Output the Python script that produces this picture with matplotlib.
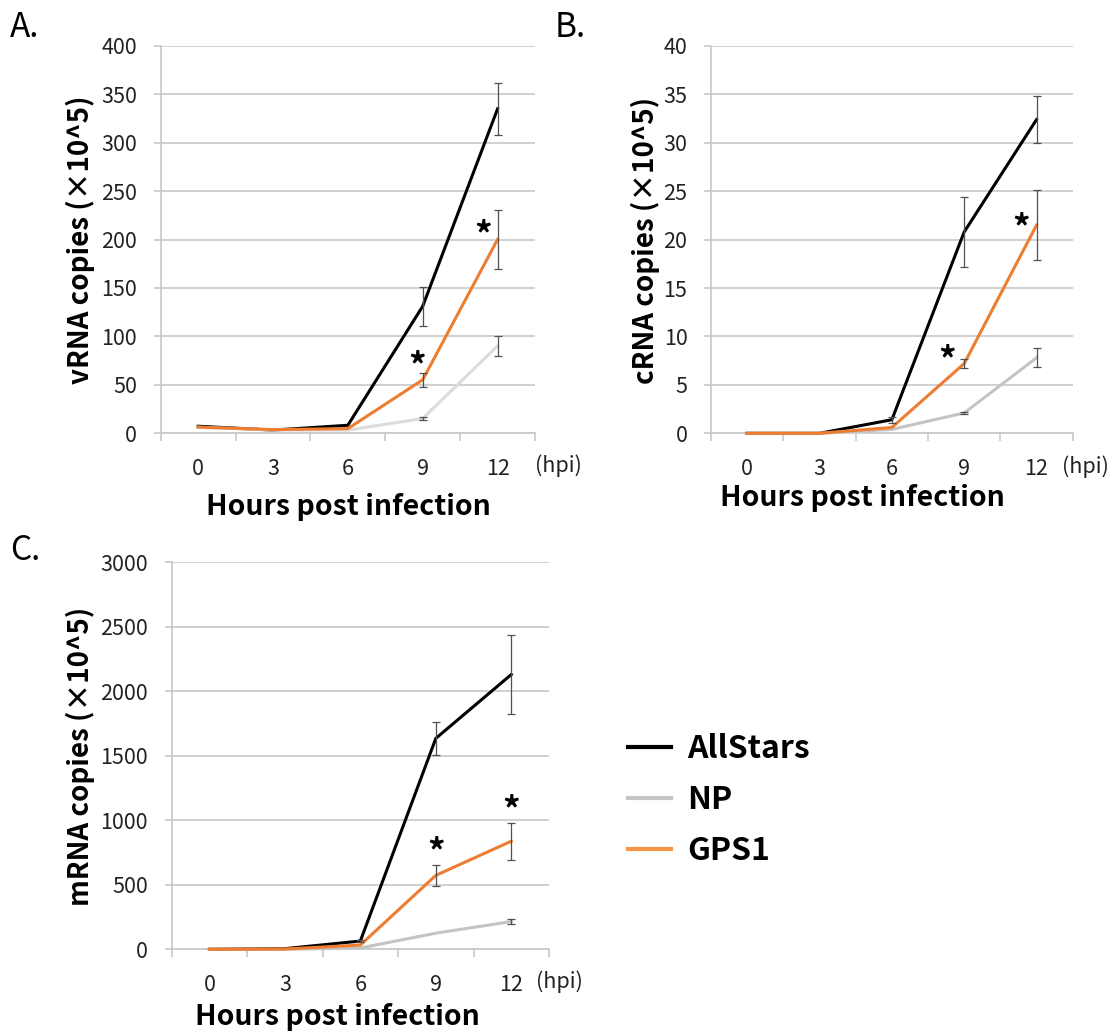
import numpy as np
import matplotlib
matplotlib.use('Agg')
import matplotlib.pyplot as plt
from matplotlib.lines import Line2D

plt.rcParams['font.family'] = ['Noto Sans CJK KR', 'DejaVu Sans']

# x categories (hours post infection)
hours = ['0', '3', '6', '9', '12']

# panel A - vRNA copies (x10^5)
vrna_allstars = [7, 3, 8, 131, 335]
vrna_allstars_err = [0, 0, 0, 20, 27]
vrna_np = [6, 3, 3, 15, 90]
vrna_np_err = [0, 0, 0, 1.5, 10]
vrna_gps1 = [6, 3.5, 4.5, 55, 200]
vrna_gps1_err = [0, 0, 0, 7, 31]

# panel B - cRNA copies (x10^5)
crna_allstars = [0, 0, 1.4, 20.8, 32.4]
crna_allstars_err = [0, 0, 0.3, 3.6, 2.4]
crna_np = [0, 0, 0.4, 2.1, 7.8]
crna_np_err = [0, 0, 0, 0.1, 1.0]
crna_gps1 = [0, 0, 0.6, 7.2, 21.5]
crna_gps1_err = [0, 0, 0, 0.5, 3.6]

# panel C - mRNA copies (x10^5)
mrna_allstars = [0, 5, 64, 1635, 2130]
mrna_allstars_err = [0, 0, 10, 125, 307]
mrna_np = [0, 0, 10, 125, 215]
mrna_np_err = [0, 0, 0, 0, 20]
mrna_gps1 = [0, 2, 33, 573, 838]
mrna_gps1_err = [0, 0, 0, 80, 142]

series_names = ['AllStars', 'NP', 'GPS1']

W, H = 1119, 1031
fig = plt.figure(figsize=(W / 100, H / 100), dpi=100)


def px(x0, y0, x1, y1):
    # pixel box -> figure fraction rect
    return [x0 / W, 1 - y1 / H, (x1 - x0) / W, (y1 - y0) / H]


GRID = '#c8c8c8'
ERR = '#505050'
colors = {'AllStars': '#000000', 'NP': '#c4c4c4', 'GPS1': '#ed7d31'}


def draw_panel(rect, data, ymax, ystep, ylabel, ylab_xy, xlab_xy, hpi_x,
               stars, letter, letter_xy, np_color):
    ax = fig.add_axes(rect)
    x = np.arange(len(hours))
    handles = []
    for name, (vals, errs) in zip(series_names, data):
        c = np_color if name == 'NP' else colors[name]
        ln, = ax.plot(x, vals, color=c, lw=2.2, zorder=3, clip_on=False,
                      solid_joinstyle='miter')
        handles.append(ln)
        errs = np.asarray(errs, dtype=float)
        m = errs > 0
        if m.any():
            ax.errorbar(x[m], np.asarray(vals)[m], yerr=errs[m], fmt='none',
                        ecolor=ERR, elinewidth=0.9, capsize=3.2,
                        capthick=0.9, zorder=4, clip_on=False)
    ax.set_xlim(-0.5, len(hours) - 0.5)
    ax.set_ylim(0, ymax)
    ax.set_yticks(np.arange(0, ymax + ystep / 2, ystep))
    ax.yaxis.grid(True, color=GRID, lw=1.2)
    ax.set_axisbelow(True)
    ax.tick_params(axis='y', length=5, width=1.2, color=GRID, pad=12,
                   labelsize=15.5, labelcolor='#222222')
    ax.set_xticks(x)
    ax.set_xticklabels(hours)
    ax.set_xticks(np.arange(-0.5, len(hours)), minor=True)
    ax.tick_params(axis='x', which='major', length=0, pad=18, labelsize=15.5,
                   labelcolor='#222222')
    ax.tick_params(axis='x', which='minor', length=6, width=1.2, color=GRID)
    for s in ['top', 'right']:
        ax.spines[s].set_visible(False)
    for s in ['left', 'bottom']:
        ax.spines[s].set_color(GRID)
        ax.spines[s].set_linewidth(1.2)
    ax.text(hpi_x, -0.085, '(hpi)', transform=ax.get_xaxis_transform(),
            ha='left', va='center', fontsize=15.5, color='#222222')
    for sx, sy in stars:
        ax.annotate('*', (sx, sy), xytext=(0, -6), textcoords='offset points',
                    ha='center', va='center', fontsize=25,
                    fontweight='bold', zorder=5)
    fig.text(ylab_xy[0] / W, 1 - ylab_xy[1] / H, ylabel, rotation=90,
             ha='center', va='center', fontsize=20, fontweight='bold')
    fig.text(xlab_xy[0] / W, 1 - xlab_xy[1] / H, 'Hours post infection',
             ha='center', va='baseline', fontsize=20.5, fontweight='bold')
    fig.text(letter_xy[0] / W, 1 - letter_xy[1] / H, letter, ha='left',
             va='baseline', fontsize=24)
    return handles


draw_panel(px(160.7, 46, 535, 433),
           [(vrna_allstars, vrna_allstars_err), (vrna_np, vrna_np_err),
            (vrna_gps1, vrna_gps1_err)],
           400, 50, 'vRNA copies (×10^5)', (80, 240), (348, 515), 4.5,
           [(2.92, 77), (3.8, 212)], 'A.', (10, 37), '#dcdcdc')

draw_panel(px(711, 46, 1072.7, 433.3),
           [(crna_allstars, crna_allstars_err), (crna_np, crna_np_err),
            (crna_gps1, crna_gps1_err)],
           40, 5, 'cRNA copies (×10^5)', (645, 240), (862, 506), 4.35,
           [(2.76, 8.3), (3.78, 22.0)], 'B.', (555, 37), '#c4c4c4')

handles = draw_panel(px(171.7, 562.3, 549, 949.3),
                     [(mrna_allstars, mrna_allstars_err), (mrna_np, mrna_np_err),
                      (mrna_gps1, mrna_gps1_err)],
                     3000, 500, 'mRNA copies (×10^5)', (80, 756), (337, 1025), 4.33,
                     [(3.0, 814), (4.0, 1140)], 'C.', (10, 560), '#c4c4c4')

leg_handles = [Line2D([], [], color=colors[n] if n != 'GPS1' else '#f79646', lw=3)
               for n in series_names]
leg = fig.legend(leg_handles, series_names, loc='upper left',
                 bbox_to_anchor=(628 / W, 1 - 733 / H), frameon=False,
                 borderpad=0, borderaxespad=0, handlelength=1.35,
                 handletextpad=0.5, labelspacing=0.6,
                 prop={'size': 23, 'weight': 'bold'})

fig.savefig('out.png', dpi=100)
